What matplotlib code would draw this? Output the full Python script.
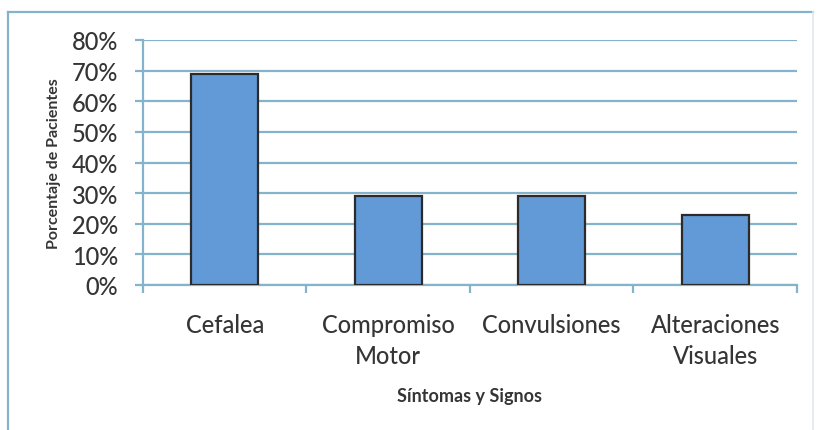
import matplotlib
matplotlib.use("Agg")
import matplotlib.pyplot as plt
from matplotlib.ticker import FixedLocator, PercentFormatter
from matplotlib.lines import Line2D

categories = ["Cefalea", "Compromiso\nMotor", "Convulsiones", "Alteraciones\nVisuales"]
percentages = [69, 29, 29, 23]
y_ticks = [0, 10, 20, 30, 40, 50, 60, 70, 80]

plt.rcParams["font.family"] = ["Lato", "DejaVu Sans"]

bar_color = "#619ad6"
edge_color = "#2b2b2b"
grid_color = "#86b3cc"
text_color = "#353535"

fig = plt.figure(figsize=(8.2, 4.31), dpi=100)
fig.patch.set_facecolor("white")

# Light frame around the chart area
fig.add_artist(Line2D([8 / 820, 8 / 820], [0, 1 - 13 / 431], transform=fig.transFigure,
                      color=grid_color, lw=1.6))
fig.add_artist(Line2D([8 / 820, 813 / 820], [1 - 13 / 431, 1 - 13 / 431], transform=fig.transFigure,
                      color=grid_color, lw=1.6))
fig.add_artist(Line2D([813 / 820, 813 / 820], [0, 1 - 13 / 431], transform=fig.transFigure,
                      color="#dfe9ef", lw=1.2))

ax = fig.add_axes([143 / 820, 1 - 286 / 431, (797 - 143) / 820, (286 - 41) / 431])
ax.set_facecolor("white")

x = list(range(len(categories)))
ax.bar(x, percentages, width=0.41, color=bar_color, edgecolor=edge_color, linewidth=1.6, zorder=3)

ax.set_xlim(-0.5, len(categories) - 0.5)
ax.set_ylim(0, 80)
ax.yaxis.set_major_locator(FixedLocator(y_ticks))
ax.yaxis.set_major_formatter(PercentFormatter(decimals=0))
ax.grid(axis="y", color=grid_color, lw=1.6, zorder=0)

# Boundary ticks on the category axis, labels centred on each bar
ax.xaxis.set_major_locator(FixedLocator([i - 0.5 for i in range(len(categories) + 1)]))
ax.xaxis.set_major_formatter(plt.NullFormatter())
ax.xaxis.set_minor_locator(FixedLocator(x))
ax.set_xticklabels(categories, minor=True, linespacing=1.45, fontweight="medium")
ax.tick_params(axis="x", which="major", length=6, width=1.6, color=grid_color, direction="out")
ax.tick_params(axis="x", which="minor", length=0, pad=20, labelsize=17, labelcolor=text_color)
ax.tick_params(axis="y", length=6, width=1.6, color=grid_color, pad=12,
               labelsize=17, labelcolor=text_color)
for lbl in ax.get_yticklabels():
    lbl.set_fontweight("medium")

for side in ("top", "right"):
    ax.spines[side].set_visible(False)
for side in ("left", "bottom"):
    ax.spines[side].set_color(grid_color)
    ax.spines[side].set_linewidth(1.6)

ax.set_ylabel("Porcentaje de Pacientes", fontsize=11.5, fontweight="bold",
              color=text_color, labelpad=8)
ax.set_xlabel("Síntomas y Signos", fontsize=13, fontweight="bold",
              color=text_color, labelpad=14)

fig.savefig("out.png", dpi=100, facecolor="white")
